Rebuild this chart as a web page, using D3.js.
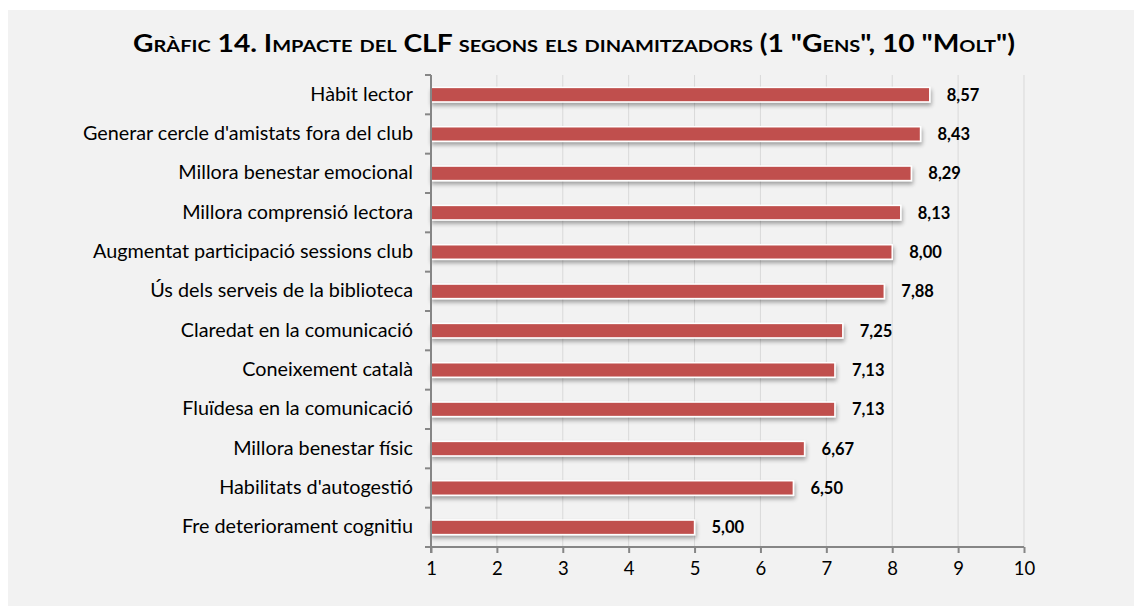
<!DOCTYPE html>
<html>
<head>
<meta charset="utf-8">
<script src="https://cdn.jsdelivr.net/npm/d3@7"></script>
<style>
  body { margin: 0; background: #ffffff; }
  svg text { font-family: Lato, "Open Sans", sans-serif; }
</style>
</head>
<body>
<div id="chart"></div>
<script>
var categories = [
    "Hàbit lector",
    "Generar cercle d'amistats fora del club",
    "Millora benestar emocional",
    "Millora comprensió lectora",
    "Augmentat participació sessions club",
    "Ús dels serveis de la biblioteca",
    "Claredat en la comunicació",
    "Coneixement català",
    "Fluïdesa en la comunicació",
    "Millora benestar físic",
    "Habilitats d'autogestió",
    "Fre deteriorament cognitiu"
];
var values = [8.57, 8.43, 8.29, 8.13, 8.00, 7.88, 7.25, 7.13, 7.13, 6.67, 6.50, 5.00];
var xTicks = [1, 2, 3, 4, 5, 6, 7, 8, 9, 10];

function init() {
    var W = 1134, H = 606;
    var left = 431, right = 1024, top = 75, bottom = 547;

    var svg = d3.select("#chart").append("svg")
        .attr("width", W)
        .attr("height", H);

    var defs = svg.append("defs");
    var f = defs.append("filter").attr("id", "shadow")
        .attr("x", "-5%").attr("y", "-50%").attr("width", "110%").attr("height", "250%");
    f.append("feGaussianBlur").attr("in", "SourceAlpha").attr("stdDeviation", 2);
    f.append("feOffset").attr("dx", 1).attr("dy", 3).attr("result", "b");
    f.append("feComponentTransfer").append("feFuncA").attr("type", "linear").attr("slope", 0.35);
    var m = f.append("feMerge");
    m.append("feMergeNode");
    m.append("feMergeNode").attr("in", "SourceGraphic");

    // panel background
    svg.append("rect")
        .attr("x", 8).attr("y", 10)
        .attr("width", W - 8).attr("height", H - 10)
        .attr("fill", "#f2f2f2");

    var xScale = d3.scaleLinear()
        .domain([1, 10])
        .range([left, right]);

    var yScale = d3.scaleBand()
        .domain(categories)
        .range([top, bottom])
        .paddingInner(0.63)
        .paddingOuter(0.315);

    // gridlines
    svg.append("g")
        .selectAll("line")
        .data(xTicks.slice(1))
        .enter()
        .append("line")
        .attr("x1", function (d) { return xScale(d); })
        .attr("x2", function (d) { return xScale(d); })
        .attr("y1", top)
        .attr("y2", bottom)
        .attr("stroke", "#d9d9d9")
        .attr("stroke-width", 1);

    // bars
    svg.append("g")
        .selectAll("rect")
        .data(values)
        .enter()
        .append("rect")
        .attr("x", xScale(1))
        .attr("y", function (d, i) { return yScale(categories[i]); })
        .attr("width", function (d) { return xScale(d) - xScale(1); })
        .attr("height", yScale.bandwidth())
        .attr("fill", "#c0504d")
        .attr("stroke", "#ffffff")
        .attr("stroke-width", 1.5)
        .attr("filter", "url(#shadow)");

    // value labels
    svg.append("g")
        .selectAll("text")
        .data(values)
        .enter()
        .append("text")
        .attr("x", function (d) { return xScale(d) + 17; })
        .attr("y", function (d, i) { return yScale(categories[i]) + yScale.bandwidth() / 2 + 6; })
        .attr("font-size", 16.5)
        .attr("font-weight", "bold")
        .attr("fill", "#000")
        .text(function (d) { return d.toFixed(2).replace(".", ","); });

    // x axis
    var xAxis = svg.append("g")
        .attr("transform", "translate(0," + bottom + ")")
        .call(d3.axisBottom(xScale)
            .tickValues(xTicks)
            .tickSize(6)
            .tickPadding(9)
            .tickFormat(d3.format("d")));
    xAxis.select(".domain").attr("stroke", "#868686").attr("stroke-width", 2)
        .attr("d", "M" + left + ",0H" + right);
    xAxis.selectAll(".tick line").attr("stroke", "#868686").attr("stroke-width", 2);
    xAxis.selectAll(".tick text")
        .attr("font-size", 18.5)
        .attr("fill", "#000")
        .style("font-family", "Lato, sans-serif");

    // y axis: line with ticks at category boundaries
    var bounds = d3.range(categories.length + 1).map(function (i) { return top + i * (bottom - top) / categories.length; });
    svg.append("line")
        .attr("x1", left).attr("x2", left)
        .attr("y1", top).attr("y2", bottom + 6)
        .attr("stroke", "#868686").attr("stroke-width", 2);
    svg.append("g")
        .selectAll("line")
        .data(bounds)
        .enter()
        .append("line")
        .attr("x1", left - 6).attr("x2", left)
        .attr("y1", function (d) { return d; })
        .attr("y2", function (d) { return d; })
        .attr("stroke", "#868686").attr("stroke-width", 2);

    // category labels
    svg.append("g")
        .selectAll("text")
        .data(categories)
        .enter()
        .append("text")
        .attr("x", 413)
        .attr("y", function (d) { return yScale(d) + yScale.bandwidth() / 2 + 6; })
        .attr("text-anchor", "end")
        .attr("font-size", 19.8)
        .attr("fill", "#000")
        .text(function (d) { return d; });

    // title
    svg.append("text")
        .attr("x", 574)
        .attr("y", 52)
        .attr("text-anchor", "middle")
        .attr("font-size", 24)
        .attr("font-weight", "bold")
        .attr("fill", "#000")
        .style("font-variant", "small-caps")
        .attr("textLength", 882)
        .attr("lengthAdjust", "spacingAndGlyphs")
        .text("Gràfic 14. Impacte del CLF segons els dinamitzadors (1 \"Gens\", 10 \"Molt\")");
}

window.onload = init;
</script>
</body>
</html>
